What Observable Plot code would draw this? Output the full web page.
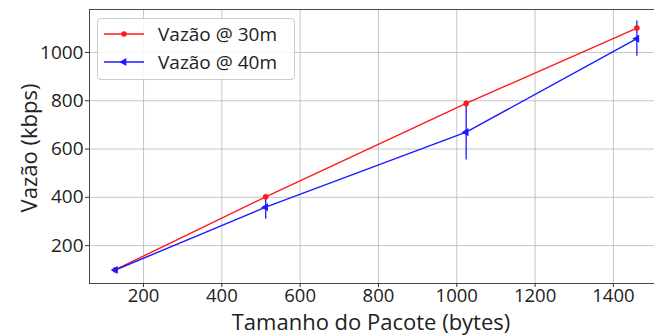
<!DOCTYPE html>
<html><head><meta charset="utf-8">
<script src="https://cdn.jsdelivr.net/npm/d3@7"></script>
<script src="https://cdn.jsdelivr.net/npm/@observablehq/plot@0.6"></script>
<style>
body{margin:0;background:#fff;}
#wrap{position:relative;width:654px;height:335px;overflow:hidden;font-family:"Open Sans",sans-serif;color:#222;}
.lab{position:absolute;white-space:nowrap;font-size:22px;color:#222;line-height:1;}
#legend{position:absolute;left:97px;top:18px;width:198px;height:62px;border:1px solid #ccc;border-radius:4px;background:rgba(255,255,255,0.85);box-sizing:border-box;}
.row{position:absolute;left:6px;height:20px;display:flex;align-items:center;font-size:19px;}
.row span{margin-left:14px;}
</style></head><body>
<div id="wrap"></div>
<script>
const sizes = [128, 512, 1024, 1460];
const vazao30 = [100, 402, 789, 1101];
const vazao40 = [99, 359, 670, 1057];
const err40 = [4, 50, 115, 73];
const series = ["Vazão @ 30m", "Vazão @ 40m"];
const colors = ["#ff1a1a", "#1a1aff"];
const xTicks = [200, 400, 600, 800, 1000, 1200, 1400];
const yTicks = [200, 400, 600, 800, 1000];

const d30 = sizes.map((s, i) => ({x: s, y: vazao30[i]}));
const d40 = sizes.map((s, i) => ({x: s, y: vazao40[i], lo: vazao40[i] - err40[i], hi: vazao40[i] + err40[i]}));
const xMin = 62, xMax = 1505, yMin = 43, yMax = 1178;

const chart = Plot.plot({
  width: 654, height: 335,
  marginLeft: 89, marginTop: 9, marginBottom: 52, marginRight: 0,
  style: {fontFamily: "'Open Sans', sans-serif", fontSize: "18.5px", color: "#222", background: "white"},
  x: {domain: [xMin, xMax]},
  y: {domain: [yMin, yMax]},
  marks: [
    Plot.ruleX(xTicks, {x: d => d, stroke: "#b8b8b8", strokeWidth: 0.8}),
    Plot.ruleY(yTicks, {y: d => d, stroke: "#b8b8b8", strokeWidth: 0.8}),
    Plot.ruleX([xMin], {stroke: "#333", strokeWidth: 0.9}),
    Plot.ruleY([yMin, yMax], {stroke: "#333", strokeWidth: 0.9}),
    Plot.axisX({ticks: xTicks, tickSize: 4, tickPadding: 1, tickFormat: d3.format("d"), label: null, fontSize: 18.5, stroke: "#333"}),
    Plot.axisY({ticks: yTicks, tickSize: 4, tickPadding: 2, tickFormat: d3.format("d"), label: null, fontSize: 19, stroke: "#333"}),
    Plot.ruleX(d40, {x: "x", y1: "lo", y2: "hi", stroke: colors[1], strokeWidth: 1.3}),
    Plot.line(d30, {x: "x", y: "y", stroke: colors[0], strokeWidth: 1.4}),
    Plot.line(d40, {x: "x", y: "y", stroke: colors[1], strokeWidth: 1.4}),
    Plot.dot(d30, {x: "x", y: "y", r: 2.8, fill: colors[0]}),
    Plot.dot(d40, {x: "x", y: "y", r: 3, symbol: "triangle", rotate: -90, fill: colors[1]})
  ]
});
const wrap = document.getElementById("wrap");
wrap.appendChild(chart);

const xl = document.createElement("div");
xl.className = "lab"; xl.textContent = "Tamanho do Pacote (bytes)";
xl.style.left = "371px"; xl.style.top = "321px"; xl.style.transform = "translate(-50%,-50%)";
wrap.appendChild(xl);
const yl = document.createElement("div");
yl.className = "lab"; yl.textContent = "Vazão (kbps)";
yl.style.left = "28px"; yl.style.top = "148px"; yl.style.transform = "translate(-50%,-50%) rotate(-90deg)";
wrap.appendChild(yl);

const lg = document.createElement("div");
lg.id = "legend";
series.forEach((name, i) => {
  const row = document.createElement("div");
  row.className = "row"; row.style.top = (5 + i * 28) + "px";
  const sw = d3.create("svg").attr("width", 40).attr("height", 12);
  sw.append("line").attr("x1", 0).attr("x2", 40).attr("y1", 6).attr("y2", 6).attr("stroke", colors[i]).attr("stroke-width", 1.4);
  if (i === 0) sw.append("circle").attr("cx", 20).attr("cy", 6).attr("r", 2.8).attr("fill", colors[i]);
  else sw.append("path").attr("d", d3.symbol(d3.symbolTriangle, 28)()).attr("transform", "translate(20,6) rotate(-90)").attr("fill", colors[i]);
  row.appendChild(sw.node());
  const t = document.createElement("span"); t.textContent = name;
  row.appendChild(t);
  lg.appendChild(row);
});
wrap.appendChild(lg);
</script>
</body></html>
